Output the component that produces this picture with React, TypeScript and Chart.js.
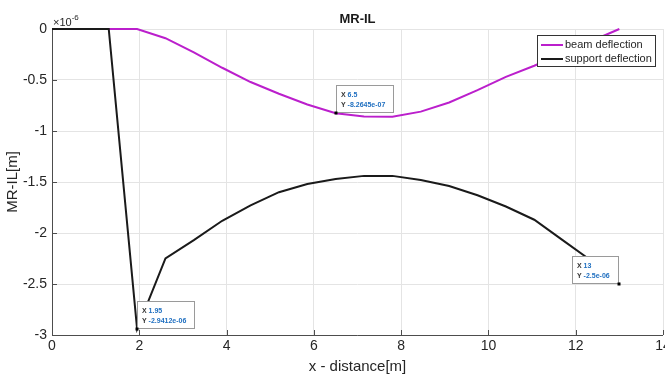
import { useEffect, useRef } from 'react';
import { Chart, registerables } from 'chart.js';

Chart.register(...registerables);

// ---- data (y values in units of 1e-6 m) ----
const beamX = [0, 0.65, 1.3, 1.95, 2.6, 3.25, 3.9, 4.55, 5.2, 5.85, 6.5, 7.15, 7.8, 8.45, 9.1, 9.75, 10.4, 11.05, 11.7, 12.35, 13];
const beamY = [0, 0, 0, 0, -0.09, -0.23, -0.38, -0.52, -0.635, -0.74, -0.82645, -0.857, -0.86, -0.81, -0.72, -0.6, -0.47, -0.36, -0.24, -0.12, 0];
const supportX = [0, 0.65, 1.3, 1.95, 2.6, 3.25, 3.9, 4.55, 5.2, 5.85, 6.5, 7.15, 7.8, 8.45, 9.1, 9.75, 10.4, 11.05, 11.7, 12.35, 13];
const supportY = [0, 0, 0, -2.9412, -2.25, -2.07, -1.88, -1.73, -1.6, -1.52, -1.47, -1.44, -1.44, -1.48, -1.54, -1.63, -1.74, -1.87, -2.07, -2.27, -2.5];

const xTicks = [0, 2, 4, 6, 8, 10, 12, 14];
const yTicks = [0, -0.5, -1, -1.5, -2, -2.5, -3];

const seriesNames = ['beam deflection', 'support deflection'];
const tipX = [6.5, 1.95, 13];
const tipY = [-0.82645, -2.9412, -2.5];
const tipXText = ['6.5', '1.95', '13'];
const tipYText = ['-8.2645e-07', '-2.9412e-06', '-2.5e-06'];
const tipRightAnchored = [false, false, true];

const title = 'MR-IL';
const xTitle = 'x - distance[m]';
const yTitle = 'MR-IL[m]';

const FONT = '"Liberation Sans", Arial, sans-serif';
const MAGENTA = '#bb1fcc';
const BLACK = '#1a1a1a';
const AXIS = '#4d4d4d';
const TEXT = '#262626';

const overlay = {
  id: 'overlay',
  beforeDatasetsDraw(chart: any) {
    const { ctx, chartArea } = chart;
    const { left, right, top, bottom } = chartArea;
    const xs = chart.scales.x;
    const ys = chart.scales.y;
    ctx.save();
    ctx.strokeStyle = AXIS;
    ctx.lineWidth = 1;
    ctx.beginPath();
    ctx.moveTo(left + 0.5, top);
    ctx.lineTo(left + 0.5, bottom + 0.5);
    ctx.lineTo(right, bottom + 0.5);
    ctx.stroke();
    // inward ticks
    ctx.beginPath();
    xTicks.forEach((t) => {
      const px = Math.round(xs.getPixelForValue(t)) + 0.5;
      ctx.moveTo(px, bottom);
      ctx.lineTo(px, bottom - 5);
    });
    yTicks.forEach((t) => {
      const py = Math.round(ys.getPixelForValue(t)) + 0.5;
      ctx.moveTo(left, py);
      ctx.lineTo(left + 5, py);
    });
    ctx.stroke();
    ctx.restore();
  },
  afterDraw(chart: any) {
    const { ctx, chartArea } = chart;
    const { left, right, top, bottom } = chartArea;
    const xs = chart.scales.x;
    const ys = chart.scales.y;
    ctx.save();
    // title
    ctx.fillStyle = '#1a1a1a';
    ctx.font = `bold 13px ${FONT}`;
    ctx.textAlign = 'center';
    ctx.textBaseline = 'alphabetic';
    ctx.fillText(title, (left + right) / 2, 23);
    // exponent
    ctx.fillStyle = TEXT;
    ctx.textAlign = 'left';
    ctx.font = `11px ${FONT}`;
    ctx.fillText('\u00d710', left + 1, 26);
    const w = ctx.measureText('\u00d710').width;
    ctx.font = `8px ${FONT}`;
    ctx.fillText('-6', left + 1 + w, 20);
    // axis titles
    ctx.font = `15px ${FONT}`;
    ctx.textAlign = 'center';
    ctx.fillText(xTitle, (left + right) / 2, 371);
    ctx.save();
    ctx.translate(17, (top + bottom) / 2);
    ctx.rotate(-Math.PI / 2);
    ctx.fillText(yTitle, 0, 0);
    ctx.restore();

    // legend
    const lx = 537, ly = 35, lw = 118, lh = 31;
    ctx.fillStyle = '#ffffff';
    ctx.fillRect(lx, ly, lw, lh);
    ctx.strokeStyle = '#333333';
    ctx.lineWidth = 1;
    ctx.strokeRect(lx + 0.5, ly + 0.5, lw, lh);
    const colors = [MAGENTA, BLACK];
    seriesNames.forEach((name, i) => {
      const cy = 45 + i * 14;
      ctx.strokeStyle = colors[i];
      ctx.lineWidth = 2;
      ctx.beginPath();
      ctx.moveTo(541, cy);
      ctx.lineTo(563, cy);
      ctx.stroke();
      ctx.fillStyle = TEXT;
      ctx.font = `11px ${FONT}`;
      ctx.textAlign = 'left';
      ctx.textBaseline = 'middle';
      ctx.fillText(name, 565, cy);
    });

    // data tips
    ctx.textBaseline = 'alphabetic';
    tipX.forEach((tx, i) => {
      const px = xs.getPixelForValue(tx);
      const py = ys.getPixelForValue(tipY[i]);
      ctx.font = `bold 7px ${FONT}`;
      const l1 = 'X ';
      const l2 = 'Y ';
      const w1 = ctx.measureText(l1).width + ctx.measureText(tipXText[i]).width;
      const w2 = ctx.measureText(l2).width + ctx.measureText(tipYText[i]).width;
      const bw = Math.round(Math.max(w1, w2) + 13);
      const bh = 27;
      const bx = Math.round(tipRightAnchored[i] ? px - bw - 1 : px);
      const by = Math.round(py - bh - 1);
      ctx.fillStyle = '#ffffff';
      ctx.fillRect(bx, by, bw, bh);
      ctx.strokeStyle = '#9a9a9a';
      ctx.lineWidth = 1;
      ctx.strokeRect(bx + 0.5, by + 0.5, bw, bh);
      ctx.fillStyle = '#333333';
      ctx.fillText(l1, bx + 5, by + 12);
      ctx.fillText(l2, bx + 5, by + 22);
      ctx.fillStyle = '#1f6fc0';
      ctx.fillText(tipXText[i], bx + 5 + ctx.measureText(l1).width, by + 12);
      ctx.fillText(tipYText[i], bx + 5 + ctx.measureText(l2).width, by + 22);
      // marker
      ctx.fillStyle = '#000000';
      ctx.fillRect(Math.round(px) - 1.5, Math.round(py) - 1.5, 3, 3);
    });
    ctx.restore();
  },
};

export default function App() {
  const ref = useRef<HTMLCanvasElement>(null);
  useEffect(() => {
    document.body.style.margin = '0';
    const beam = beamX.map((x, i) => ({ x, y: beamY[i] }));
    const support = supportX.map((x, i) => ({ x, y: supportY[i] }));
    const chart = new Chart(ref.current as HTMLCanvasElement, {
      type: 'scatter',
      data: {
        datasets: [
          {
            label: seriesNames[0],
            data: beam,
            showLine: true,
            borderColor: MAGENTA,
            backgroundColor: MAGENTA,
            borderWidth: 2,
            pointRadius: 0,
            tension: 0,
            order: 1,
            clip: 4,
          },
          {
            label: seriesNames[1],
            data: support,
            showLine: true,
            borderColor: BLACK,
            backgroundColor: BLACK,
            borderWidth: 2,
            pointRadius: 0,
            tension: 0,
            order: 0,
            clip: 4,
          },
        ],
      },
      options: {
        responsive: false,
        animation: false,
        devicePixelRatio: 1,
        layout: { padding: { top: 29, right: 2, left: 0, bottom: 0 } },
        plugins: { legend: { display: false }, tooltip: { enabled: false }, title: { display: false } },
        scales: {
          x: {
            type: 'linear',
            min: 0,
            max: 14,
            afterBuildTicks: (s: any) => {
              s.ticks = xTicks.map((v) => ({ value: v }));
            },
            ticks: {
              callback: (v: any) => String(v),
              color: TEXT,
              font: { family: FONT, size: 14 },
              padding: 3,
              maxRotation: 0,
              autoSkip: false,
            },
            grid: { color: '#e4e4e4', drawTicks: false, lineWidth: 1 },
            border: { display: false },
            afterFit: (s: any) => {
              s.height = 39;
              s.paddingLeft = 0;
              s.paddingRight = 0;
            },
          },
          y: {
            type: 'linear',
            min: -3,
            max: 0,
            afterBuildTicks: (s: any) => {
              s.ticks = yTicks.map((v) => ({ value: v }));
            },
            ticks: {
              callback: (v: any) => String(v),
              color: TEXT,
              font: { family: FONT, size: 14 },
              padding: 5,
              autoSkip: false,
            },
            grid: { color: '#e4e4e4', drawTicks: false, lineWidth: 1 },
            border: { display: false },
            afterFit: (s: any) => {
              s.width = 52;
              s.paddingTop = 0;
              s.paddingBottom = 0;
            },
          },
        },
      },
      plugins: [overlay],
    } as any);
    return () => chart.destroy();
  }, []);
  return <canvas ref={ref} width={665} height={374} style={{ display: 'block' }} />;
}
